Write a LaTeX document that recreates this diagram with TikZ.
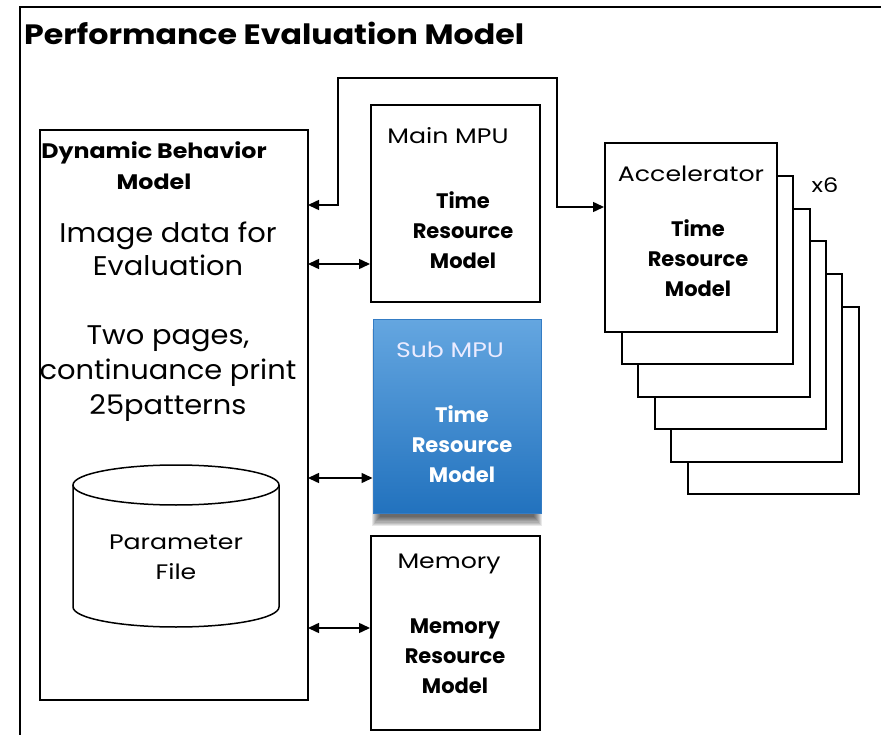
\documentclass[tikz,border=0pt]{standalone}
\usepackage{fontspec}
\setmainfont{Poppins}
\newfontfamily\wideA{Poppins}[FakeStretch=1.2]
\newfontfamily\wideB{Poppins}[FakeStretch=1.13]
\newfontfamily\wideC{Poppins}[FakeStretch=1.07]
\usetikzlibrary{arrows.meta}
\definecolor{bluetop}{RGB}{100,166,224}
\definecolor{bluebot}{RGB}{34,114,190}
\definecolor{blueedge}{RGB}{52,124,196}
\begin{document}
\begin{tikzpicture}[x=1pt,y=-1pt,
  frame/.style={line width=2pt},
  box/.style={draw=black, line width=2pt, fill=white, inner sep=0pt},
  lbl/.style={font=\wideA\fontsize{21}{25}\selectfont, inner sep=0pt},
  boldtxt/.style={font=\fontsize{21}{30}\selectfont\bfseries, align=center, inner sep=0pt},
  bigtxt/.style={align=center, inner sep=0pt},
  link/.style={line width=1.5pt, {Triangle[length=11pt,width=10pt]}-{Triangle[length=11pt,width=10pt]}}
]
\useasboundingbox (0,0) rectangle (881,735);
\fill[white] (0,0) rectangle (881,735);
% outer frame
\draw[frame] (20,736) -- (20,7) -- (882,7);
\node[anchor=west, inner sep=0pt, font=\wideB\fontsize{28}{34}\selectfont\bfseries] (title) at (24,33) {Performance Evaluation Model};

% dynamic behaviour model
\node[box, minimum width=268pt, minimum height=570pt] (dyn) at (174,415) {};
\node[boldtxt, font=\wideB\fontsize{21}{31}\selectfont\bfseries] (dyntitle) at (154,166) {Dynamic Behavior\\Model};
\node[bigtxt, font=\wideC\fontsize{27}{33}\selectfont] (imgdata) at (168,249) {Image data for\\Evaluation};
\node[bigtxt, font=\wideC\fontsize{27}{35}\selectfont] (pages) at (168,374) {Two pages,\\continuance print\\25patterns};
% cylinder
\draw[line width=1.5pt, fill=white] (73,485) -- (73,607) arc[start angle=180, end angle=360, x radius=103pt, y radius=20pt] -- (279,485);
\draw[line width=1.5pt] (176,485) ellipse [x radius=103pt, y radius=20pt];
\node[lbl, align=center, font=\wideA\fontsize{21}{30}\selectfont] (param) at (176,557) {Parameter\\File};

% main MPU
\node[box, minimum width=169pt, minimum height=197pt] (main) at (455.5,203.5) {};
\node[lbl] (maint) at (448,136) {Main MPU};
\node[boldtxt] (mainb) at (463,230) {Time\\Resource\\Model};

% sub MPU (soft shadow + gradient)
\foreach \k in {0,...,8} \fill[black, opacity=0.09] (380-\k,336-\k*0.9) rectangle (534+\k,517+\k*1.1);
\node[shade, top color=bluetop, bottom color=bluebot, draw=blueedge, line width=1pt, minimum width=168pt, minimum height=193pt, inner sep=0pt] (sub) at (457,416.5) {};
\node[lbl, text=white!92!blue] (subt) at (450,350) {Sub MPU};
\node[boldtxt, text=white] (subb) at (462,444) {Time\\Resource\\Model};

% memory
\node[box, minimum width=169pt, minimum height=194pt] (mem) at (455.5,633) {};
\node[lbl] (memt) at (449,564) {Memory};
\node[boldtxt] (memb) at (455,656) {Memory\\Resource\\Model};

% accelerator stack
\foreach \i in {5,4,3,2,1} {
  \draw[line width=2pt, fill=white] (605+16.5*\i,143+32.8*\i) rectangle (777+16.3*\i,332+32.4*\i);
}
\node[box, minimum width=172pt, minimum height=189pt] (acc) at (691,237.5) {};
\node[lbl] (acct) at (691,174) {Accelerator};
\node[boldtxt] (accb) at (698,258) {Time\\Resource\\Model};
\node[lbl, font=\wideA\fontsize{20}{24}\selectfont] (x6) at (825,185) {x6};

% connectors
\coordinate (c1) at (308,205);
\coordinate (c2) at (338,78);
\coordinate (c3) at (557,207);
\draw[link] (c1) -| (c2) -| (c3) -- (c3 -| acc.west);

\coordinate (a1) at (308,264);
\coordinate (a2) at (308,478);
\coordinate (a3) at (308,628);
\draw[link] (a1) -- (a1 -| main.west);
\draw[link] (a2) -- (a2 -| sub.west);
\draw[link] (a3) -- (a3 -| mem.west);
\end{tikzpicture}
\end{document}
